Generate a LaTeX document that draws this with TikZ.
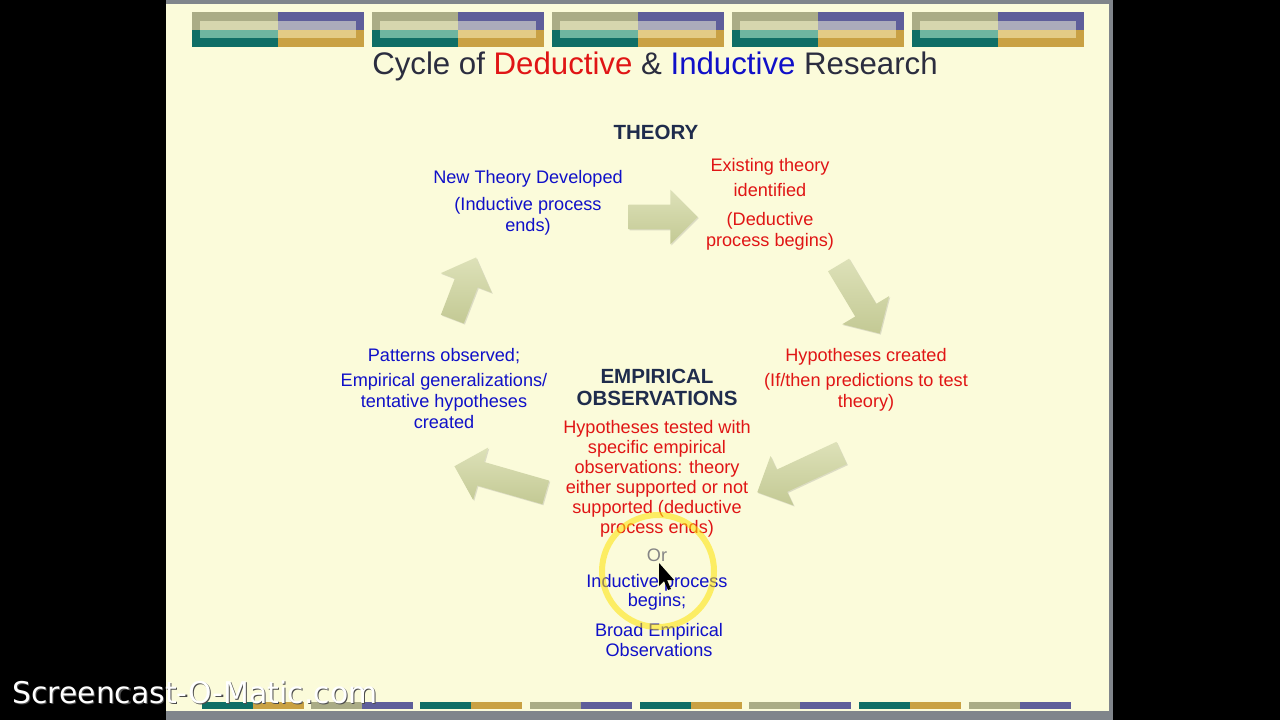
\documentclass[tikz,border=0pt]{standalone}
\usepackage{fontspec}
\setmainfont{Liberation Sans}
\newfontfamily\markfont{DejaVu Sans}
\usetikzlibrary{shapes.arrows,shadows}

\definecolor{slidebg}{HTML}{FBFBDA}
\definecolor{framegray}{HTML}{80858B}
\definecolor{titledark}{HTML}{2B2D3F}
\definecolor{headnavy}{HTML}{1F2C4C}
\definecolor{dedred}{HTML}{E01515}
\definecolor{indblue}{HTML}{1010C8}
\definecolor{orgray}{HTML}{858585}
\definecolor{arrowlight}{HTML}{DDE1B8}
\definecolor{arrowdark}{HTML}{C3C994}
\definecolor{barkhaki}{HTML}{AAAC86}
\definecolor{barkhakilt}{HTML}{D6D6AE}
\definecolor{barteal}{HTML}{0F6E66}
\definecolor{bartealt}{HTML}{6DB5A0}
\definecolor{barpurple}{HTML}{5E5E9A}
\definecolor{barpurplelt}{HTML}{ABABBB}
\definecolor{bargold}{HTML}{C9A143}
\definecolor{bargoldlt}{HTML}{E3CB85}

\tikzset{
  bodytext/.style={align=center, inner sep=0pt, font=\fontsize{13.6}{15.75}\selectfont},
  dedtext/.style={bodytext, text=dedred},
  indtext/.style={bodytext, text=indblue},
  headtext/.style={align=center, inner sep=0pt, text=headnavy, font=\fontsize{15.4}{16.5}\selectfont\bfseries},
  cyclearrow/.style={single arrow, draw=none, inner xsep=0pt, inner ysep=12*0.75pt,
    single arrow head extend=15*0.75pt,
    top color=arrowlight, bottom color=arrowdark,
    drop shadow={opacity=0.25, shadow xshift=0.8pt, shadow yshift=-0.8pt}}
}

\begin{document}
\begin{tikzpicture}[x=0.75pt, y=-0.75pt]
  \useasboundingbox (0,0) rectangle (1280,720);
  \fill[black] (0,0) rectangle (1280,720);
  \fill[slidebg] (166,0) rectangle (1113,720);
  \fill[framegray] (166,0) rectangle (1113,4);
  \fill[framegray] (166,711) rectangle (1113,720);
  \fill[framegray] (1109,0) rectangle (1113,720);

  % top bar groups
  \foreach \gx in {192,372,552,732,912} {
    \fill[barkhaki] (\gx,12) rectangle (\gx+86,30);
    \fill[barkhakilt] (\gx+8,21) rectangle (\gx+86,30);
    \fill[barteal] (\gx,30) rectangle (\gx+86,47);
    \fill[bartealt] (\gx+8,30) rectangle (\gx+86,38);
    \fill[barpurple] (\gx+86,12) rectangle (\gx+172,30);
    \fill[barpurplelt] (\gx+86,21) rectangle (\gx+164,30);
    \fill[bargold] (\gx+86,30) rectangle (\gx+172,47);
    \fill[bargoldlt] (\gx+86,30) rectangle (\gx+164,38);
  }

  % bottom bars
  \foreach \bx/\ca/\cb in {202/barteal/bargold, 311/barkhaki/barpurple,
      420/barteal/bargold, 530/barkhaki/barpurple, 640/barteal/bargold,
      749/barkhaki/barpurple, 859/barteal/bargold, 969/barkhaki/barpurple} {
    \fill[\ca] (\bx,702) rectangle (\bx+51,709);
    \fill[\cb] (\bx+51,702) rectangle (\bx+102,709);
  }

  \node[inner sep=0pt, text=titledark, font=\fontsize{23.4}{27}\selectfont] (title) at (655,66)
    {Cycle of \textcolor{dedred}{Deductive} \& \textcolor{indblue}{Inductive} Research};

  % cycle arrows
  \node[cyclearrow, minimum height=69*0.75pt, rotate=0] (toparrow) at (657,217) {};
  \node[cyclearrow, minimum height=80*0.75pt, rotate=-59] (rightarrow) at (856,294) {};
  \node[cyclearrow, minimum height=93*0.75pt, rotate=205] (lowrightarrow) at (805,470) {};
  \node[cyclearrow, minimum height=95*0.75pt, rotate=164] (lowleftarrow) at (506,481) {};
  \node[cyclearrow, minimum height=66*0.75pt, rotate=69] (leftarrow) at (462,294) {};

  \node[headtext] (theory) at (656,132) {THEORY};
  \node[headtext] (empirical) at (657,387) {EMPIRICAL\\OBSERVATIONS};

  \node[indtext] (newtheory) at (528,203) {New Theory Developed\\[4.5pt](Inductive process\\ends)};
  \node[dedtext] (existing) at (770,204) {Existing theory\\[3pt]identified\\[6pt](Deductive\\process begins)};
  \node[dedtext] (hypotheses) at (866,380) {Hypotheses created\\[3pt](If/then predictions to test\\theory)};
  \node[indtext] (patterns) at (444,389) {Patterns observed;\\[3pt]Empirical generalizations/\\tentative hypotheses\\created};
  \node[dedtext, font=\fontsize{13.6}{15}\selectfont] (tested) at (657,479)
    {Hypotheses tested with\\specific empirical\\observations: theory\\either supported or not\\supported (deductive\\process ends)};
  \node[bodytext, text=orgray] (or) at (657,555) {Or};
  \node[indtext, font=\fontsize{13.6}{14.25}\selectfont] (indbegins) at (657,592) {Inductive process\\begins;};
  \node[indtext, font=\fontsize{13.6}{15}\selectfont] (broad) at (659,640) {Broad Empirical\\Observations};

  % recording overlay
  \draw[yellow!85!orange, line width=4.5pt, opacity=0.55] (658,571) circle (56);
  \fill[black] (659,563) -- (659,586) -- (664,581) -- (668,590) -- (671,589) -- (667,580) -- (674,580) -- cycle;

  \node[anchor=base west, inner sep=0pt, text=black!70, font=\markfont\fontsize{22.4}{26}\selectfont] (wmshadow) at (13.2,704.2) {Screencast-O-Matic.com};
  \node[anchor=base west, inner sep=0pt, text=white, font=\markfont\fontsize{22.4}{26}\selectfont] (watermark) at (12,703) {Screencast-O-Matic.com};
\end{tikzpicture}
\end{document}
